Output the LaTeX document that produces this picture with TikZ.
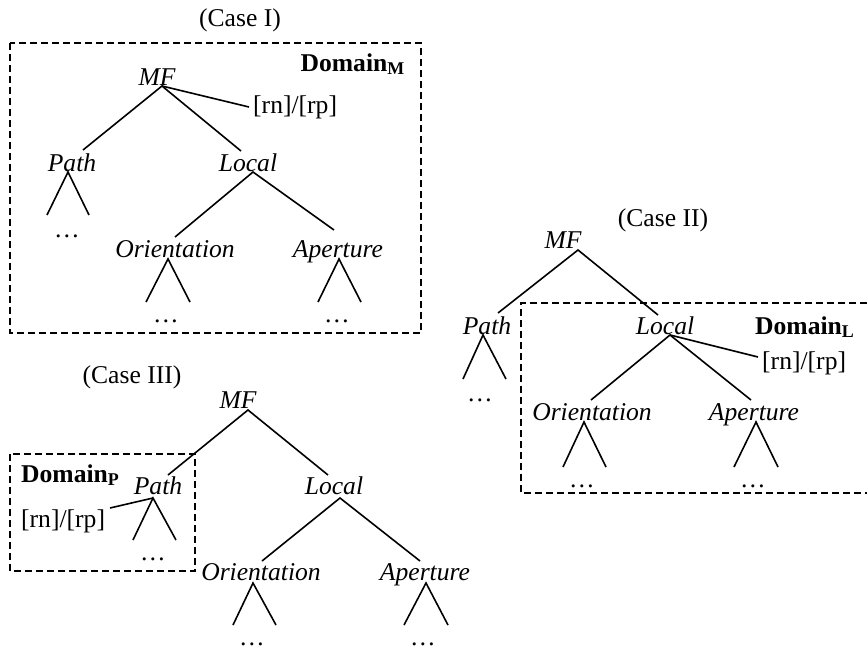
\documentclass[tikz,border=0pt]{standalone}
\usepackage{fontspec}
\setmainfont{Liberation Serif}
\newcommand{\mytri}[6]{%
  \coordinate (#1a) at (#2,#3);
  \coordinate (#1l) at (#4,#6);
  \coordinate (#1r) at (#5,#6);
  \draw[edge] (#1l) -- (#1a) -- (#1r);}
\begin{document}
\begin{tikzpicture}[x=1pt,y=-1pt,
  lbl/.style={inner sep=0pt, anchor=base, font=\fontsize{25.6}{30}\selectfont},
  it/.style={lbl, font=\fontsize{25.6}{30}\selectfont\itshape},
  edge/.style={line width=1.6pt},
  dom/.style={line width=1.6pt, dash pattern=on 7pt off 4pt}]
\useasboundingbox (0,0) rectangle (867,648);

% ---------------- Case I ----------------
\node[lbl] (c1) at (240,26) {(Case I)};
\draw[dom] (10,43) rectangle (421,333);
\node[lbl, anchor=base east] (d1) at (405,71) {\textbf{Domain\textsubscript{M}}};
\node[it] (mf1) at (157,85) {MF};
\coordinate (mf1a) at (162,86);
\node[lbl, anchor=base west] (rn1) at (253,113) {[rn]/[rp]};
\coordinate (rn1a) at (249,107);
\node[it] (p1) at (72,171) {Path};
\node[it] (l1) at (248,171) {Local};
\coordinate (p1t) at (83,150);
\coordinate (l1t) at (241,151);
\draw[edge] (mf1a) -- (rn1a);
\draw[edge] (p1t) -- (mf1a) -- (l1t);
\mytri{p1}{68}{172}{47}{89}{215}
\node[lbl] (p1d) at (67,237) {\ldots};
\coordinate (l1a) at (253,172);
\coordinate (o1t) at (175,237);
\coordinate (ap1t) at (334,230);
\draw[edge] (o1t) -- (l1a) -- (ap1t);
\node[it] (o1) at (175,257) {Orientation};
\node[it] (ap1) at (338,257) {Aperture};
\mytri{o1}{168}{259}{146}{190}{302}
\mytri{ap1}{339}{259}{318}{361}{302}
\node[lbl] (o1d) at (166,322) {\ldots};
\node[lbl] (ap1d) at (337,322) {\ldots};

% ---------------- Case II ----------------
\node[lbl] (c2) at (663,226) {(Case II)};
\draw[dom] (867,303) -- (521,303) -- (521,493) -- (867,493);
\node[lbl, anchor=base west] (d2) at (755,334) {\textbf{Domain\textsubscript{L}}};
\node[it] (mf2) at (563,248) {MF};
\coordinate (mf2a) at (578,250);
\coordinate (p2t) at (498,313);
\coordinate (l2t) at (658,315);
\draw[edge] (p2t) -- (mf2a) -- (l2t);
\node[it] (p2) at (487,334) {Path};
\node[it] (l2) at (665,334) {Local};
\mytri{p2}{483}{335}{463}{506}{379}
\node[lbl] (p2d) at (480,401) {\ldots};
\coordinate (l2a) at (670,335);
\coordinate (o2t) at (591,400);
\coordinate (ap2t) at (751,400);
\coordinate (rn2a) at (758,357);
\draw[edge] (o2t) -- (l2a) -- (ap2t);
\draw[edge] (l2a) -- (rn2a);
\node[lbl, anchor=base west] (rn2) at (762,369) {[rn]/[rp]};
\node[it] (o2) at (592,420) {Orientation};
\node[it] (ap2) at (754,420) {Aperture};
\mytri{o2}{584}{422}{563}{606}{467}
\mytri{ap2}{756}{422}{734}{778}{467}
\node[lbl] (o2d) at (582,487) {\ldots};
\node[lbl] (ap2d) at (753,487) {\ldots};

% ---------------- Case III ----------------
\node[lbl] (c3) at (132,383) {(Case III)};
\draw[dom] (10,454) rectangle (195,571);
\node[lbl, anchor=base west] (d3) at (21,482) {\textbf{Domain\textsubscript{P}}};
\node[it] (mf3) at (238,408) {MF};
\coordinate (mf3a) at (248,410);
\coordinate (p3t) at (168,475);
\coordinate (l3t) at (328,475);
\draw[edge] (p3t) -- (mf3a) -- (l3t);
\node[it] (p3) at (158,494) {Path};
\node[it] (l3) at (334,494) {Local};
\mytri{p3}{153}{498}{133}{176}{540}
\node[lbl] (p3d) at (153,560) {\ldots};
\node[lbl, anchor=base west] (rn3) at (21,527) {[rn]/[rp]};
\coordinate (rn3a) at (110,508);
\draw[edge] (rn3a) -- (p3a);
\coordinate (l3a) at (340,498);
\coordinate (o3t) at (262,561);
\coordinate (ap3t) at (420,561);
\draw[edge] (o3t) -- (l3a) -- (ap3t);
\node[it] (o3) at (261,580) {Orientation};
\node[it] (ap3) at (425,580) {Aperture};
\mytri{o3}{253}{583}{233}{276}{625}
\mytri{ap3}{426}{583}{404}{448}{625}
\node[lbl] (o3d) at (252,645) {\ldots};
\node[lbl] (ap3d) at (423,645) {\ldots};
\end{tikzpicture}
\end{document}
